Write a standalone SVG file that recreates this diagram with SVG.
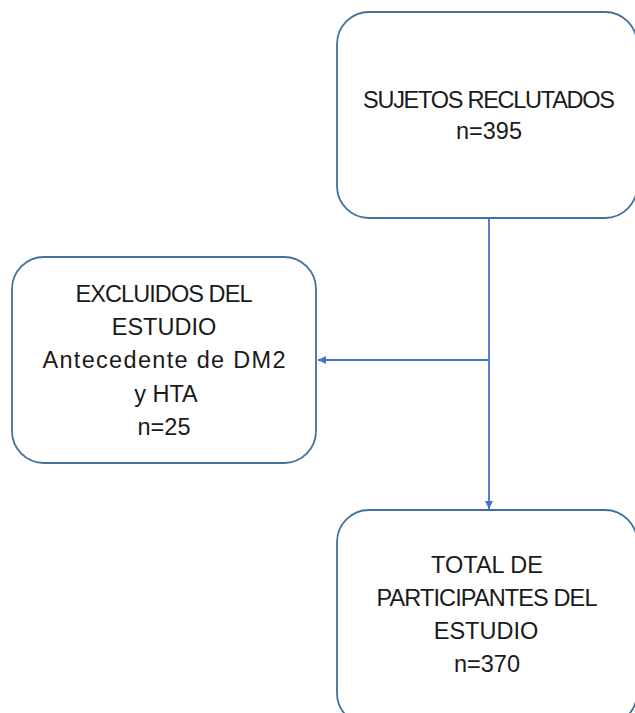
<svg xmlns="http://www.w3.org/2000/svg" width="635" height="713" viewBox="0 0 635 713">
<style>
.box{fill:#ffffff;stroke:#41719C;stroke-width:1.8}
.t{font-family:"Liberation Sans",Arial,sans-serif;font-size:23.5px;fill:#1a1a1a;text-anchor:middle}
.c{stroke:#4472C4;stroke-width:1.8;fill:none}
</style>
<defs>
<marker id="ah" viewBox="0 0 10 10" refX="10" refY="5" markerWidth="8" markerHeight="8" markerUnits="userSpaceOnUse" orient="auto">
<path d="M0,0 L10,5 L0,10 z" fill="#4472C4"/>
</marker>
</defs>
<rect width="635" height="713" fill="#ffffff"/>
<g id="connectors">
<line class="c" x1="489" y1="218" x2="489" y2="509" marker-end="url(#ah)"/>
<line class="c" x1="489" y1="360" x2="318" y2="360" marker-end="url(#ah)"/>
</g>
<g id="reclutados">
<rect class="box" x="337" y="12" width="300" height="206" rx="32"/>
<text class="t" x="489" y="108" textLength="252" lengthAdjust="spacing">SUJETOS RECLUTADOS</text>
<text class="t" x="489" y="139">n=395</text>
</g>
<g id="excluidos">
<rect class="box" x="12" y="257" width="304" height="206" rx="32"/>
<text class="t" x="164" y="302" textLength="177" lengthAdjust="spacing">EXCLUIDOS DEL</text>
<text class="t" x="164" y="335">ESTUDIO</text>
<text class="t" x="164" y="368" textLength="243" lengthAdjust="spacing">Antecedente de DM2</text>
<text class="t" x="166" y="402">y HTA</text>
<text class="t" x="164" y="435">n=25</text>
</g>
<g id="total">
<rect class="box" x="337" y="510" width="300" height="215" rx="32"/>
<text class="t" x="487" y="573">TOTAL DE</text>
<text class="t" x="487" y="606" textLength="221" lengthAdjust="spacing">PARTICIPANTES DEL</text>
<text class="t" x="486" y="639">ESTUDIO</text>
<text class="t" x="487" y="672">n=370</text>
</g>
</svg>
